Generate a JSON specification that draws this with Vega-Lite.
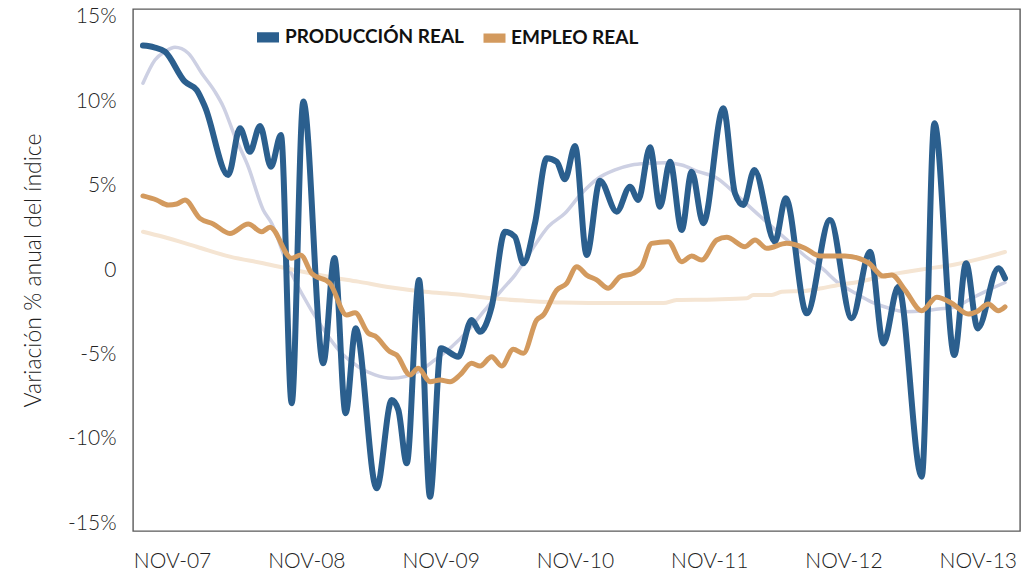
{
  "$schema": "https://vega.github.io/schema/vega-lite/v6.json",
  "width": 887,
  "height": 522,
  "autosize": {"type": "none"},
  "padding": {"left": 133, "top": 9, "right": 8, "bottom": 46},
  "background": "#ffffff",
  "config": {
    "view": {"stroke": "#5a5a5a", "strokeWidth": 1.4},
    "font": "Lato",
    "axis": {"grid": false, "ticks": false, "domain": false, "labelFont": "Lato", "labelFontWeight": 300, "labelColor": "#222222", "labelFontSize": 21, "titleFont": "Lato", "titleFontWeight": 300, "titleColor": "#222222", "titleFontSize": 23}
  },
  "datasets": {
    "series": [
      {"serie": "PRODUCCIÓN REAL", "t": 0, "v": 13.3},
      {"serie": "PRODUCCIÓN REAL", "t": 1.0, "v": 13.2},
      {"serie": "PRODUCCIÓN REAL", "t": 1.97, "v": 12.94},
      {"serie": "PRODUCCIÓN REAL", "t": 3.75, "v": 11.16},
      {"serie": "PRODUCCIÓN REAL", "t": 4.8, "v": 10.67},
      {"serie": "PRODUCCIÓN REAL", "t": 5.54, "v": 9.68},
      {"serie": "PRODUCCIÓN REAL", "t": 7.62, "v": 5.63},
      {"serie": "PRODUCCIÓN REAL", "t": 8.67, "v": 8.4},
      {"serie": "PRODUCCIÓN REAL", "t": 9.56, "v": 7.01},
      {"serie": "PRODUCCIÓN REAL", "t": 10.46, "v": 8.54},
      {"serie": "PRODUCCIÓN REAL", "t": 11.44, "v": 6.12},
      {"serie": "PRODUCCIÓN REAL", "t": 12.33, "v": 8.0},
      {"serie": "PRODUCCIÓN REAL", "t": 13.29, "v": -7.9},
      {"serie": "PRODUCCIÓN REAL", "t": 14.33, "v": 9.98},
      {"serie": "PRODUCCIÓN REAL", "t": 16.11, "v": -5.53},
      {"serie": "PRODUCCIÓN REAL", "t": 17.11, "v": 0.71},
      {"serie": "PRODUCCIÓN REAL", "t": 18.11, "v": -8.49},
      {"serie": "PRODUCCIÓN REAL", "t": 19.01, "v": -3.46},
      {"serie": "PRODUCCIÓN REAL", "t": 20.88, "v": -12.94},
      {"serie": "PRODUCCIÓN REAL", "t": 22.23, "v": -7.71},
      {"serie": "PRODUCCIÓN REAL", "t": 22.82, "v": -8.3},
      {"serie": "PRODUCCIÓN REAL", "t": 23.57, "v": -11.46},
      {"serie": "PRODUCCIÓN REAL", "t": 24.67, "v": -0.59},
      {"serie": "PRODUCCIÓN REAL", "t": 25.65, "v": -13.44},
      {"serie": "PRODUCCIÓN REAL", "t": 26.63, "v": -4.64},
      {"serie": "PRODUCCIÓN REAL", "t": 28.18, "v": -5.14},
      {"serie": "PRODUCCIÓN REAL", "t": 29.37, "v": -2.96},
      {"serie": "PRODUCCIÓN REAL", "t": 30.12, "v": -3.66},
      {"serie": "PRODUCCIÓN REAL", "t": 31.16, "v": -2.18},
      {"serie": "PRODUCCIÓN REAL", "t": 32.35, "v": 2.27},
      {"serie": "PRODUCCIÓN REAL", "t": 33.24, "v": 1.97},
      {"serie": "PRODUCCIÓN REAL", "t": 33.99, "v": 0.4},
      {"serie": "PRODUCCIÓN REAL", "t": 35.03, "v": 2.77},
      {"serie": "PRODUCCIÓN REAL", "t": 36.08, "v": 6.62},
      {"serie": "PRODUCCIÓN REAL", "t": 36.97, "v": 6.42},
      {"serie": "PRODUCCIÓN REAL", "t": 37.71, "v": 5.38},
      {"serie": "PRODUCCIÓN REAL", "t": 38.61, "v": 7.35},
      {"serie": "PRODUCCIÓN REAL", "t": 39.65, "v": 0.89},
      {"serie": "PRODUCCIÓN REAL", "t": 40.84, "v": 5.29},
      {"serie": "PRODUCCIÓN REAL", "t": 42.33, "v": 3.46},
      {"serie": "PRODUCCIÓN REAL", "t": 43.52, "v": 4.94},
      {"serie": "PRODUCCIÓN REAL", "t": 44.26, "v": 4.15},
      {"serie": "PRODUCCIÓN REAL", "t": 45.31, "v": 7.27},
      {"serie": "PRODUCCIÓN REAL", "t": 46.2, "v": 3.75},
      {"serie": "PRODUCCIÓN REAL", "t": 47.1, "v": 6.42},
      {"serie": "PRODUCCIÓN REAL", "t": 48.14, "v": 2.37},
      {"serie": "PRODUCCIÓN REAL", "t": 49.03, "v": 5.83},
      {"serie": "PRODUCCIÓN REAL", "t": 50.07, "v": 2.77},
      {"serie": "PRODUCCIÓN REAL", "t": 51.86, "v": 9.59},
      {"serie": "PRODUCCIÓN REAL", "t": 52.9, "v": 4.55},
      {"serie": "PRODUCCIÓN REAL", "t": 53.65, "v": 3.85},
      {"serie": "PRODUCCIÓN REAL", "t": 54.63, "v": 5.93},
      {"serie": "PRODUCCIÓN REAL", "t": 56.47, "v": 1.68},
      {"serie": "PRODUCCIÓN REAL", "t": 57.44, "v": 4.25},
      {"serie": "PRODUCCIÓN REAL", "t": 59.31, "v": -2.57},
      {"serie": "PRODUCCIÓN REAL", "t": 61.39, "v": 2.96},
      {"serie": "PRODUCCIÓN REAL", "t": 63.33, "v": -2.86},
      {"serie": "PRODUCCIÓN REAL", "t": 64.97, "v": 1.08},
      {"serie": "PRODUCCIÓN REAL", "t": 66.16, "v": -4.35},
      {"serie": "PRODUCCIÓN REAL", "t": 67.5, "v": -0.99},
      {"serie": "PRODUCCIÓN REAL", "t": 69.59, "v": -12.25},
      {"serie": "PRODUCCIÓN REAL", "t": 70.72, "v": 8.7},
      {"serie": "PRODUCCIÓN REAL", "t": 72.5, "v": -5.04},
      {"serie": "PRODUCCIÓN REAL", "t": 73.55, "v": 0.4},
      {"serie": "PRODUCCIÓN REAL", "t": 74.59, "v": -3.46},
      {"serie": "PRODUCCIÓN REAL", "t": 76.43, "v": 0.1},
      {"serie": "PRODUCCIÓN REAL", "t": 77.03, "v": -0.49},
      {"serie": "EMPLEO REAL", "t": 0, "v": 4.39},
      {"serie": "EMPLEO REAL", "t": 1.22, "v": 4.15},
      {"serie": "EMPLEO REAL", "t": 2.26, "v": 3.85},
      {"serie": "EMPLEO REAL", "t": 3.01, "v": 3.91},
      {"serie": "EMPLEO REAL", "t": 3.75, "v": 4.15},
      {"serie": "EMPLEO REAL", "t": 5.09, "v": 3.06},
      {"serie": "EMPLEO REAL", "t": 6.28, "v": 2.73},
      {"serie": "EMPLEO REAL", "t": 7.77, "v": 2.17},
      {"serie": "EMPLEO REAL", "t": 9.41, "v": 2.73},
      {"serie": "EMPLEO REAL", "t": 10.61, "v": 2.27},
      {"serie": "EMPLEO REAL", "t": 11.35, "v": 2.53},
      {"serie": "EMPLEO REAL", "t": 13.29, "v": 0.69},
      {"serie": "EMPLEO REAL", "t": 14.09, "v": 0.89},
      {"serie": "EMPLEO REAL", "t": 15.08, "v": -0.2},
      {"serie": "EMPLEO REAL", "t": 16.71, "v": -0.79},
      {"serie": "EMPLEO REAL", "t": 18.2, "v": -2.67},
      {"serie": "EMPLEO REAL", "t": 18.95, "v": -2.53},
      {"serie": "EMPLEO REAL", "t": 20.14, "v": -3.75},
      {"serie": "EMPLEO REAL", "t": 20.73, "v": -3.91},
      {"serie": "EMPLEO REAL", "t": 22.07, "v": -4.84},
      {"serie": "EMPLEO REAL", "t": 22.67, "v": -5.04},
      {"serie": "EMPLEO REAL", "t": 23.86, "v": -6.22},
      {"serie": "EMPLEO REAL", "t": 24.6, "v": -5.83},
      {"serie": "EMPLEO REAL", "t": 25.65, "v": -6.62},
      {"serie": "EMPLEO REAL", "t": 26.54, "v": -6.52},
      {"serie": "EMPLEO REAL", "t": 27.44, "v": -6.62},
      {"serie": "EMPLEO REAL", "t": 28.33, "v": -6.22},
      {"serie": "EMPLEO REAL", "t": 29.37, "v": -5.53},
      {"serie": "EMPLEO REAL", "t": 30.12, "v": -5.69},
      {"serie": "EMPLEO REAL", "t": 31.16, "v": -5.14},
      {"serie": "EMPLEO REAL", "t": 32.06, "v": -5.69},
      {"serie": "EMPLEO REAL", "t": 33.09, "v": -4.7},
      {"serie": "EMPLEO REAL", "t": 33.99, "v": -4.94},
      {"serie": "EMPLEO REAL", "t": 35.18, "v": -2.96},
      {"serie": "EMPLEO REAL", "t": 35.77, "v": -2.67},
      {"serie": "EMPLEO REAL", "t": 36.97, "v": -1.19},
      {"serie": "EMPLEO REAL", "t": 37.86, "v": -0.79},
      {"serie": "EMPLEO REAL", "t": 38.76, "v": 0.2},
      {"serie": "EMPLEO REAL", "t": 39.65, "v": -0.3},
      {"serie": "EMPLEO REAL", "t": 40.54, "v": -0.59},
      {"serie": "EMPLEO REAL", "t": 41.58, "v": -1.08},
      {"serie": "EMPLEO REAL", "t": 42.63, "v": -0.4},
      {"serie": "EMPLEO REAL", "t": 43.82, "v": -0.2},
      {"serie": "EMPLEO REAL", "t": 44.57, "v": 0.2},
      {"serie": "EMPLEO REAL", "t": 45.46, "v": 1.58},
      {"serie": "EMPLEO REAL", "t": 46.94, "v": 1.68},
      {"serie": "EMPLEO REAL", "t": 48.14, "v": 0.49},
      {"serie": "EMPLEO REAL", "t": 49.03, "v": 0.83},
      {"serie": "EMPLEO REAL", "t": 49.93, "v": 0.59},
      {"serie": "EMPLEO REAL", "t": 51.27, "v": 1.78},
      {"serie": "EMPLEO REAL", "t": 52.16, "v": 1.94},
      {"serie": "EMPLEO REAL", "t": 53.8, "v": 1.38},
      {"serie": "EMPLEO REAL", "t": 54.69, "v": 1.78},
      {"serie": "EMPLEO REAL", "t": 55.74, "v": 1.29},
      {"serie": "EMPLEO REAL", "t": 57.52, "v": 1.58},
      {"serie": "EMPLEO REAL", "t": 59.16, "v": 1.29},
      {"serie": "EMPLEO REAL", "t": 60.5, "v": 0.83},
      {"serie": "EMPLEO REAL", "t": 62.73, "v": 0.83},
      {"serie": "EMPLEO REAL", "t": 64.82, "v": 0.43},
      {"serie": "EMPLEO REAL", "t": 66.16, "v": -0.36},
      {"serie": "EMPLEO REAL", "t": 66.91, "v": -0.3},
      {"serie": "EMPLEO REAL", "t": 68.1, "v": -1.19},
      {"serie": "EMPLEO REAL", "t": 69.59, "v": -2.41},
      {"serie": "EMPLEO REAL", "t": 70.93, "v": -1.62},
      {"serie": "EMPLEO REAL", "t": 72.27, "v": -1.97},
      {"serie": "EMPLEO REAL", "t": 73.75, "v": -2.61},
      {"serie": "EMPLEO REAL", "t": 74.5, "v": -2.47},
      {"serie": "EMPLEO REAL", "t": 75.54, "v": -2.02},
      {"serie": "EMPLEO REAL", "t": 76.43, "v": -2.41},
      {"serie": "EMPLEO REAL", "t": 77.03, "v": -2.18}
    ],
    "tendencia_produccion": [
      {"t": 0, "v": 11.07}, {"t": 1.07, "v": 12.45}, {"t": 1.97, "v": 12.94}, {"t": 2.86, "v": 13.2},
      {"t": 4.05, "v": 12.85}, {"t": 5.25, "v": 11.66}, {"t": 6.43, "v": 10.57}, {"t": 7.18, "v": 9.68},
      {"t": 8.22, "v": 7.9}, {"t": 9.41, "v": 6.12}, {"t": 10.75, "v": 3.56}, {"t": 11.5, "v": 2.77},
      {"t": 12.98, "v": 0.2}, {"t": 14.18, "v": -1.38}, {"t": 15.97, "v": -3.36}, {"t": 17.76, "v": -4.94},
      {"t": 19.24, "v": -5.73}, {"t": 20.73, "v": -6.22}, {"t": 22.23, "v": -6.42}, {"t": 23.41, "v": -6.32},
      {"t": 24.6, "v": -6.03}, {"t": 26.09, "v": -5.33}, {"t": 27.59, "v": -4.55}, {"t": 29.07, "v": -3.56},
      {"t": 30.56, "v": -2.37}, {"t": 32.06, "v": -1.19}, {"t": 33.24, "v": -0.3}, {"t": 34.74, "v": 1.19},
      {"t": 36.22, "v": 2.57}, {"t": 37.71, "v": 3.36}, {"t": 39.2, "v": 4.55}, {"t": 40.69, "v": 5.44},
      {"t": 42.18, "v": 5.93}, {"t": 43.67, "v": 6.22}, {"t": 45.16, "v": 6.32}, {"t": 46.65, "v": 6.36},
      {"t": 48.14, "v": 6.22}, {"t": 49.62, "v": 5.83}, {"t": 51.12, "v": 5.51}, {"t": 53.21, "v": 4.35},
      {"t": 54.69, "v": 3.46}, {"t": 56.18, "v": 2.57}, {"t": 57.67, "v": 1.72}, {"t": 59.16, "v": 0.83},
      {"t": 60.65, "v": 0.12}, {"t": 62.14, "v": -0.77}, {"t": 63.63, "v": -1.36}, {"t": 65.12, "v": -1.9},
      {"t": 66.6, "v": -2.25}, {"t": 68.1, "v": -2.47}, {"t": 69.59, "v": -2.43}, {"t": 71.07, "v": -2.31},
      {"t": 72.56, "v": -2.19}, {"t": 74.06, "v": -1.68}, {"t": 75.54, "v": -1.19}, {"t": 77.03, "v": -0.74}
    ],
    "tendencia_empleo": [
      {"t": 0, "v": 2.27}, {"t": 1.79, "v": 1.97}, {"t": 4.8, "v": 1.38}, {"t": 7.77, "v": 0.79},
      {"t": 10.75, "v": 0.4}, {"t": 13.74, "v": -0.03}, {"t": 16.71, "v": -0.41}, {"t": 19.24, "v": -0.69},
      {"t": 22.23, "v": -1.04}, {"t": 25.2, "v": -1.29}, {"t": 28.18, "v": -1.45}, {"t": 31.16, "v": -1.68},
      {"t": 34.14, "v": -1.82}, {"t": 37.56, "v": -1.93}, {"t": 42.18, "v": -1.96}, {"t": 46.5, "v": -1.96},
      {"t": 47.69, "v": -1.78}, {"t": 51.12, "v": -1.75}, {"t": 53.95, "v": -1.68}, {"t": 54.54, "v": -1.48},
      {"t": 56.18, "v": -1.48}, {"t": 57.08, "v": -1.29}, {"t": 59.16, "v": -1.24}, {"t": 60.65, "v": -1.08},
      {"t": 62.14, "v": -0.89}, {"t": 63.92, "v": -0.71}, {"t": 66.6, "v": -0.3}, {"t": 69.59, "v": 0.03},
      {"t": 72.56, "v": 0.33}, {"t": 75.54, "v": 0.79}, {"t": 77.03, "v": 1.07}
    ]
  },
  "encoding": {
    "x": {
      "field": "t", "type": "quantitative",
      "scale": {"domain": [-0.89, 78.37], "nice": false, "zero": false},
      "axis": {
        "title": null,
        "values": [2.6, 14.6, 26.6, 38.6, 50.6, 62.6, 74.6],
        "labelExpr": "['NOV-07','NOV-08','NOV-09','NOV-10','NOV-11','NOV-12','NOV-13'][round((datum.value - 2.6) / 12)]",
        "labelPadding": 19, "labelFlush": false, "labelOverlap": false
      }
    },
    "y": {
      "field": "v", "type": "quantitative",
      "scale": {"domain": [-15.47, 15.47], "nice": false, "zero": false},
      "axis": {
        "title": "Variación % anual del índice",
        "values": [-15, -10, -5, 0, 5, 10, 15],
        "labelExpr": "datum.value == 0 ? '0' : datum.value + '%'",
        "labelPadding": 17, "titlePadding": 22, "labelOverlap": false
      }
    }
  },
  "layer": [
    {
      "data": {"name": "tendencia_produccion"},
      "mark": {"type": "line", "color": "#cdd0e3", "strokeWidth": 3.5, "interpolate": "monotone", "strokeCap": "round"}
    },
    {
      "data": {"name": "tendencia_empleo"},
      "mark": {"type": "line", "color": "#f5e5d3", "strokeWidth": 4, "interpolate": "monotone", "strokeCap": "round"}
    },
    {
      "data": {"name": "series"},
      "mark": {"type": "line", "interpolate": "monotone", "strokeCap": "round", "strokeJoin": "round"},
      "encoding": {
        "color": {
          "field": "serie", "type": "nominal",
          "scale": {"domain": ["PRODUCCIÓN REAL", "EMPLEO REAL"], "range": ["#2b5f8e", "#d39a5e"]},
          "legend": {
            "title": null, "orient": "none", "legendX": 121, "legendY": 14, "direction": "horizontal",
            "padding": 0, "symbolType": "M-1,-0.2H1M-1,0.2H1", "symbolSize": 484,
            "labelFont": "Lato", "labelFontSize": 19, "labelFontWeight": "bold", "labelColor": "#111111",
            "labelOffset": 3, "labelLimit": 0, "columnPadding": 9
          }
        },
        "strokeWidth": {
          "field": "serie", "type": "nominal",
          "scale": {"domain": ["PRODUCCIÓN REAL", "EMPLEO REAL"], "range": [6, 5]},
          "legend": null
        }
      }
    }
  ]
}
